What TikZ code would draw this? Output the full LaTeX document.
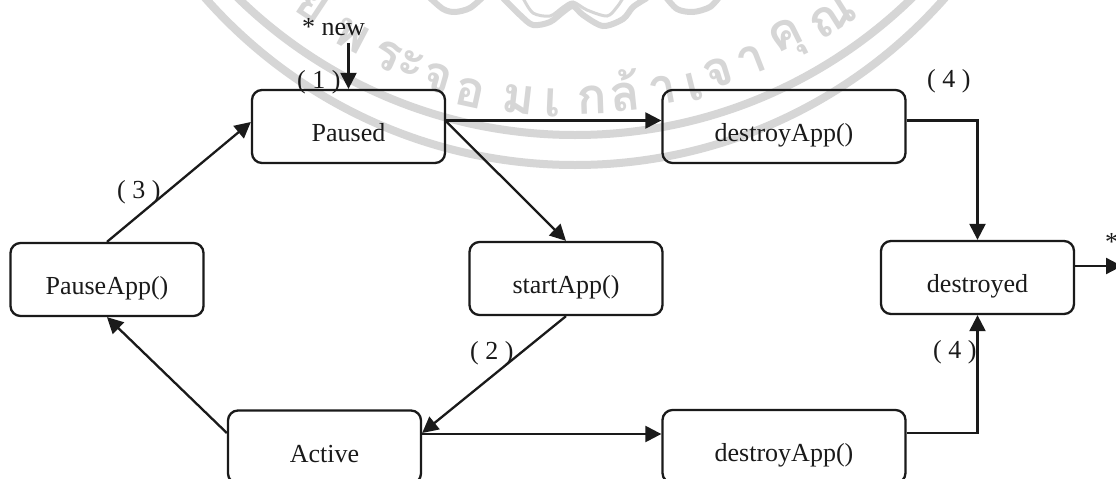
\documentclass[tikz,border=0pt]{standalone}
\usepackage{fontspec}
\setmainfont{Liberation Serif}
\newfontfamily\thaifont[Script=Thai]{Loma}
\usetikzlibrary{arrows.meta}
\definecolor{ink}{HTML}{1A1A1A}
\definecolor{wm}{HTML}{D6D6D6}
\newcommand{\boxtext}[1]{\raisebox{-15pt}[0pt][0pt]{#1}}
\tikzset{
  x=1pt,y=-1pt,
  state/.style={draw=ink,line width=2.3pt,rounded corners=10pt,fill=none,inner sep=0pt,
    text=ink,font=\fontsize{26}{30}\selectfont},
  wide/.style={state,minimum width=193pt,minimum height=73pt},
  wider/.style={state,minimum width=243pt,minimum height=73pt},
  tag/.style={anchor=base west,inner sep=0pt,text=ink,font=\fontsize{26}{30}\selectfont},
  conn/.style={draw=ink,line width=2.3pt,-{Triangle[length=16pt,width=16pt]}},
  band/.style={draw=wm,line width=8pt,fill=none},
  ribbon/.style={draw=wm,line width=6pt,fill=none},
  glyph/.style={text=wm,inner sep=0pt,font=\thaifont\bfseries\fontsize{50}{54}\selectfont}
}
\begin{document}
\begin{tikzpicture}
\useasboundingbox (0,0) rectangle (1116,479);
\clip (0,0) rectangle (1116,479);
\fill[white] (0,0) rectangle (1116,479);
% watermark
\draw[band] (575,-348) circle[radius=483];
\draw[band] (575,-328) circle[radius=493];
\draw[ribbon] plot[smooth] coordinates {(428,-4)(443,9)(455,12)(470,8)(484,-4)};
\draw[ribbon] plot[smooth] coordinates {(665,-4)(677,9)(693,12)(710,7)(720,-4)};
\draw[ribbon] plot[smooth] coordinates {(503,-2)(520,15)(533,25)(550,22)(563,12)(573,6)(583,15)(603,26)(623,19)(633,7)(647,-2)};
\draw[ribbon,line width=3pt] plot[smooth] coordinates {(523,-2)(533,13)(550,16)(563,7)(573,2)(587,10)(607,16)(617,7)(623,-2)};
\foreach \ch/\gx/\gy in {ย/312/6,พ/352/36,ร/387/56,ะ/411/64,จ/437/78,อ/470/93,ม/518/100,เ/553/103,ก/592/100,ล้/625/90,า/663/90,เ/694/87,จ/718/73,า/751/60,คุ/788/40,ณ/833/17}{
  \pgfmathsetmacro{\rot}{atan2(\gx-575,\gy+390)}
  \node[glyph,rotate=\rot] at (\gx,\gy) {\ch};
}
% states
\node[wide]  (paused)    at (348.5,126.5) {\boxtext{Paused}};
\node[wider] (destroyA)  at (784,126.5)   {\boxtext{destroyApp()}};
\node[wide]  (pause)     at (107,279.5)   {\boxtext{PauseApp()}};
\node[wide]  (start)     at (566,278.5)   {\boxtext{startApp()}};
\node[wide]  (destroyed) at (977.5,277.5) {\boxtext{destroyed}};
\node[wide]  (active)    at (324.5,447)   {\boxtext{Active}};
\node[wider] (destroyB)  at (784,446.5)   {\boxtext{destroyApp()}};
% free ends
\coordinate (newstart) at (348.5,43);
\coordinate (endpt) at (1122,266);
% connectors
\draw[conn] (newstart) -- (paused.north);
\draw[conn] ([yshift=6pt]paused.east) -- ([yshift=6pt]destroyA.west);
\draw[conn] ([yshift=5pt]paused.east) -- (start.north);
\draw[conn] ([yshift=6pt]destroyA.east) -| (destroyed.north);
\draw[conn] (destroyed.east |- endpt) -- (endpt);
\draw[conn] ([yshift=13.5pt]destroyB.east) -| (destroyed.south);
\draw[conn] (start.south) -- ([yshift=14pt]active.east);
\draw[conn] ([yshift=13pt]active.east) -- ([yshift=12.5pt]destroyB.west);
\draw[conn] ([yshift=14pt]active.west) -- (pause.south);
\draw[conn] (pause.north) -- ([yshift=4.5pt]paused.west);
% labels
\node[tag] (lnew) at (302,35) {* new};
\node[tag] (l1) at (297,88) {( 1 )};
\node[tag] (l3) at (117,198) {( 3 )};
\node[tag] (l4a) at (927,87) {( 4 )};
\node[tag] (l2) at (470,359) {( 2 )};
\node[tag] (l4b) at (933,358) {( 4 )};
\node[tag] (lend) at (1105,250) {*};
\end{tikzpicture}
\end{document}
